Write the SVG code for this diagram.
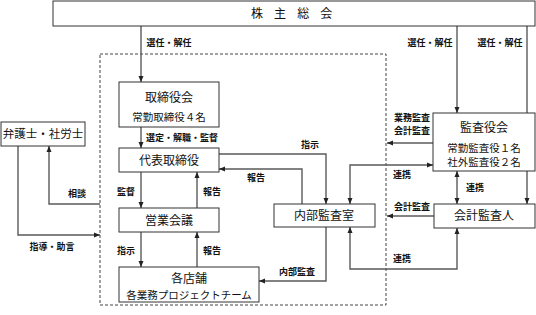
<svg xmlns="http://www.w3.org/2000/svg" width="536" height="315" viewBox="0 0 536 315">
<defs>
<marker id="ah" viewBox="0 0 6 6" refX="6" refY="3" markerWidth="6" markerHeight="6" markerUnits="userSpaceOnUse" orient="auto-start-reverse">
<path d="M0,0.5 L6,3 L0,5.5 z" fill="#222"/>
</marker>
<style>
.box{fill:#fff;stroke:#333;stroke-width:1}
.dash{fill:none;stroke:#444;stroke-width:1;stroke-dasharray:3,2}
.ln{fill:none;stroke:#5a5a5a;stroke-width:1.4}
.a{marker-end:url(#ah)}
.b{marker-start:url(#ah);marker-end:url(#ah)}
text{font-family:"Noto Sans CJK JP","Noto Sans CJK SC",sans-serif;fill:#111;text-anchor:middle}
.t{font-size:12px}
.s{font-size:10.5px}
.l{font-size:9px;font-weight:bold}
</style>
</defs>
<rect class="dash" x="100" y="54" width="286" height="251"/>
<g id="connectors">
<path class="ln a" d="M141,26 V82"/>
<path class="ln a" d="M141,127 V148"/>
<path class="ln a" d="M141,172 V208"/>
<path class="ln a" d="M197,208 V172"/>
<path class="ln a" d="M141,232 V267"/>
<path class="ln a" d="M197,267 V232"/>
<path class="ln a" d="M219,154 H326 V204"/>
<path class="ln a" d="M302,204 V169 H219"/>
<path class="ln b" d="M433,165 H350 V204"/>
<path class="ln a" d="M433,143 H387"/>
<path class="ln a" d="M457,26 V113"/>
<path class="ln a" d="M527,26 V204"/>
<path class="ln b" d="M457,171 V204"/>
<path class="ln a" d="M434,216 H387"/>
<path class="ln b" d="M457,228 V269 H350 V227"/>
<path class="ln a" d="M326,227 V281 H259"/>
<path class="ln a" d="M18,146 V235 H100"/>
<path class="ln a" d="M100,204 H49 V146"/>
<text class="l" x="169" y="46">選任・解任</text>
<text class="l" x="182" y="141">選定・解職・監督</text>
<text class="l" x="126" y="195">監督</text>
<text class="l" x="212" y="195">報告</text>
<text class="l" x="126" y="254">指示</text>
<text class="l" x="212" y="254">報告</text>
<text class="l" x="310" y="148">指示</text>
<text class="l" x="256" y="181">報告</text>
<text class="l" x="402" y="178">連携</text>
<text class="l" x="412" y="121">業務監査</text>
<text class="l" x="412" y="134">会計監査</text>
<text class="l" x="430" y="46">選任・解任</text>
<text class="l" x="500" y="46">選任・解任</text>
<text class="l" x="475" y="191">連携</text>
<text class="l" x="412" y="210">会計監査</text>
<text class="l" x="402" y="262">連携</text>
<text class="l" x="297" y="275">内部監査</text>
<text class="l" x="52" y="250">指導・助言</text>
<text class="l" x="77" y="197">相談</text>
</g>
<g id="shareholders">
<rect class="box" x="53" y="1" width="482" height="25"/>
<text class="t" x="251" y="18" style="text-anchor:start;letter-spacing:4.2px">株 主 総 会</text>
</g>
<g id="board">
<rect class="box" x="119" y="82" width="100" height="45"/>
<text class="t" x="169" y="102">取締役会</text>
<text class="s" x="169" y="121">常勤取締役４名</text>
</g>
<g id="lawyers">
<rect class="box" x="1" y="122" width="84" height="24"/>
<text class="t" x="43" y="138" style="font-size:11.5px">弁護士・社労士</text>
</g>
<g id="president">
<rect class="box" x="119" y="148" width="100" height="24"/>
<text class="t" x="169" y="165">代表取締役</text>
</g>
<g id="sales-meeting">
<rect class="box" x="119" y="208" width="100" height="24"/>
<text class="t" x="169" y="225">営業会議</text>
</g>
<g id="stores">
<rect class="box" x="119" y="267" width="140" height="35"/>
<text class="t" x="189" y="283">各店舗</text>
<text class="s" x="189" y="299">各業務プロジェクトチーム</text>
</g>
<g id="internal-audit">
<rect class="box" x="274" y="204" width="101" height="23"/>
<text class="t" x="324" y="220">内部監査室</text>
</g>
<g id="auditors-board">
<rect class="box" x="433" y="113" width="102" height="58"/>
<text class="t" x="484" y="132">監査役会</text>
<text class="s" x="484" y="152">常勤監査役１名</text>
<text class="s" x="484" y="166">社外監査役２名</text>
</g>
<g id="accounting-auditor">
<rect class="box" x="434" y="204" width="101" height="24"/>
<text class="t" x="484" y="220">会計監査人</text>
</g>
</svg>
